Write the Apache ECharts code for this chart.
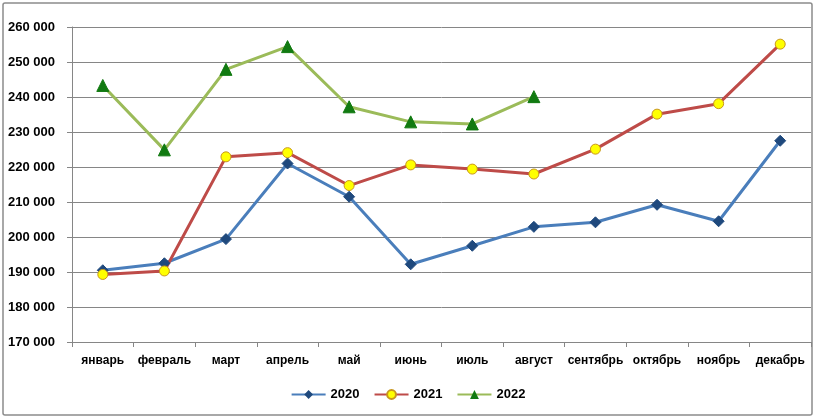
<!DOCTYPE html>
<html>
<head>
<meta charset="utf-8">
<script src="https://cdn.jsdelivr.net/npm/echarts@6/dist/echarts.min.js"></script>
<style>
  html, body { margin: 0; padding: 0; background: #fff; }
  #chart { width: 816px; height: 419px; }
</style>
</head>
<body>
<div id="chart"></div>
<script>
// месяцы
const months = ['январь', 'февраль', 'март', 'апрель', 'май', 'июнь',
  'июль', 'август', 'сентябрь', 'октябрь', 'ноябрь', 'декабрь'];

const values2020 = [190500, 192500, 199400, 221000, 211500, 192200,
  197500, 202900, 204200, 209200, 204500, 227500];
const values2021 = [189300, 190300, 222900, 224100, 214700, 220600,
  219400, 218000, 225100, 235100, 238100, 255100];
const values2022 = [243300, 224900, 247900, 254400, 237200, 232900,
  232300, 240100];

const yMin = 170000;
const yMax = 260000;
const yStep = 10000;

const labelFont = 'Liberation Sans, Arial, sans-serif';

function fmtThousands(v) {
  return String(v).replace(/\B(?=(\d{3})+(?!\d))/g, ' ');
}

const chart = echarts.init(document.getElementById('chart'));

const option = {
  backgroundColor: '#fff',
  animation: false,
  graphic: [{
    type: 'rect',
    shape: { x: 3, y: 3, width: 809, height: 412, r: 2 },
    style: { fill: 'none', stroke: '#8c8c8c', lineWidth: 1.5 },
    silent: true
  }],
  grid: { left: 72, right: 5, top: 27, bottom: 77 },
  legend: {
    bottom: 13,
    left: 'center',
    itemWidth: 34,
    itemHeight: 11,
    itemGap: 14,
    textStyle: { fontFamily: labelFont, fontWeight: 'bold', fontSize: 13, color: '#000' },
    data: ['2020', '2021', '2022']
  },
  xAxis: {
    type: 'category',
    data: months,
    boundaryGap: true,
    axisLine: { lineStyle: { color: '#868686', width: 1 } },
    axisTick: { show: true, length: 5, lineStyle: { color: '#868686' } },
    axisLabel: {
      fontFamily: labelFont, fontWeight: 'bold', fontSize: 12, color: '#000',
      margin: 13, interval: 0
    },
    splitLine: { show: false }
  },
  yAxis: {
    type: 'value',
    min: yMin,
    max: yMax,
    interval: yStep,
    axisLine: { show: true, lineStyle: { color: '#868686', width: 1 } },
    axisTick: { show: true, length: 5, lineStyle: { color: '#868686' } },
    axisLabel: {
      fontFamily: labelFont, fontWeight: 'bold', fontSize: 13, color: '#000',
      margin: 17,
      formatter: fmtThousands
    },
    splitLine: { lineStyle: { color: '#868686', width: 1 } }
  },
  series: [
    {
      name: '2020',
      type: 'line',
      data: values2020,
      symbol: 'diamond',
      symbolSize: 11,
      lineStyle: { color: '#4a7ebb', width: 3 },
      itemStyle: { color: '#1f497d', borderColor: '#1f497d' }
    },
    {
      name: '2021',
      type: 'line',
      data: values2021,
      symbol: 'circle',
      symbolSize: 10,
      lineStyle: { color: '#be4b48', width: 3 },
      itemStyle: { color: '#ffff00', borderColor: '#c8961e', borderWidth: 1 }
    },
    {
      name: '2022',
      type: 'line',
      data: values2022,
      symbol: 'triangle',
      symbolSize: 12,
      lineStyle: { color: '#9bbb59', width: 3 },
      itemStyle: { color: '#117a11', borderColor: '#117a11' }
    }
  ]
};

chart.setOption(option);
</script>
</body>
</html>
